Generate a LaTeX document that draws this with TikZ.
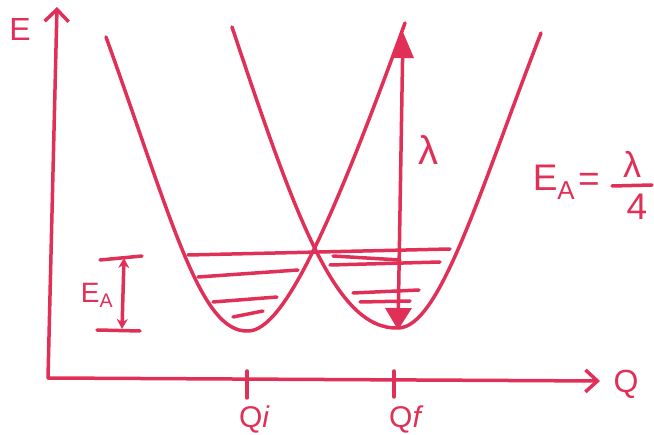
\documentclass[tikz,border=0pt]{standalone}
\usepackage{fontspec}
\setmainfont{Liberation Sans}
\usetikzlibrary{arrows.meta}
\definecolor{ink}{RGB}{224,48,88}
\begin{document}
\begin{tikzpicture}[x=1pt,y=-1pt,
  inkline/.style={draw=ink, line width=3.5pt, line cap=round, line join=round},
  lbl/.style={text=ink, inner sep=0pt},
  fs/.style={font=\fontsize{#1}{#1}\selectfont}]
\useasboundingbox (0,0) rectangle (654,435);
% axes
\coordinate (O) at (48,378);
\coordinate (Ytop) at (57,7);
\coordinate (Xend) at (600,381);
\draw[inkline, -{Straight Barb[length=12pt,width=24pt]}] (O) -- (Ytop);
\draw[inkline, -{Straight Barb[length=12pt,width=22pt]}] (O) -- (Xend);
% ticks
\coordinate (ti1) at (247,371); \coordinate (ti2) at (247,398);
\coordinate (tf1) at (394,371); \coordinate (tf2) at (394,397);
\draw[inkline] (ti1) -- (ti2);
\draw[inkline] (tf1) -- (tf2);
% parabolas
\coordinate (L1) at (106,37); \coordinate (Lv) at (248,331); \coordinate (L2) at (405,23);
\coordinate (R1) at (232,27); \coordinate (Rv) at (398,328); \coordinate (R2) at (541,33);
\draw[inkline] (L1) .. controls (172,220) and (200,333) .. (Lv)
               .. controls (285,331) and (335,215) .. (L2);
\draw[inkline] (R1) .. controls (295,215) and (335,330) .. (Rv)
               .. controls (440,328) and (480,190) .. (R2);
% vibrational levels
\draw[inkline] (188,255) -- (450,249);
\draw[inkline] (198,277) -- (298,270);
\draw[inkline] (213,302) -- (277,297);
\draw[inkline] (233,317) -- (263,311);
\draw[inkline] (333,256) -- (400,260);
\draw[inkline] (330,265) -- (440,262);
\draw[inkline] (353,293) -- (419,290);
\draw[inkline] (360,302) -- (410,301);
% lambda arrow
\coordinate (lamTop) at (403,32);
\coordinate (lamBot) at (398,330);
\draw[inkline, {Triangle[length=26pt,width=22pt]}-{Triangle[length=22pt,width=26pt]}] (lamTop) -- (lamBot);
\node[lbl, fs=40] (lam) at (428,150) {λ};
% E_A bracket
\coordinate (b1a) at (100,260); \coordinate (b1b) at (142,256);
\coordinate (b2a) at (97,330); \coordinate (b2b) at (140,331);
\coordinate (ba) at (124,258); \coordinate (bb) at (122,329);
\draw[inkline] (b1a) -- (b1b);
\draw[inkline] (b2a) -- (b2b);
\draw[inkline, {Stealth[length=10pt,width=11pt]}-{Stealth[length=10pt,width=11pt]}] (ba) -- (bb);
\node[lbl, fs=28] (EA) at (97,295) {E\textsubscript{A}};
% labels
\node[lbl, fs=32] (E) at (20,29) {E};
\node[lbl, fs=32] (Q) at (626,384) {Q};
\node[lbl, fs=30] (Qi) at (254,419) {Q{\itshape i}};
\node[lbl, fs=30] (Qf) at (405,419) {Q{\itshape f}};
% equation
\node[lbl, fs=37] (EA2) at (554,182) {E\textsubscript{A}};
\node[lbl, fs=37] (eq) at (589,182) {=};
\node[lbl, fs=36] (num) at (632,164) {λ};
\coordinate (fb1) at (612,186); \coordinate (fb2) at (652,185);
\draw[inkline] (fb1) -- (fb2);
\node[lbl, fs=37] (den) at (637,207) {4};
\end{tikzpicture}
\end{document}
